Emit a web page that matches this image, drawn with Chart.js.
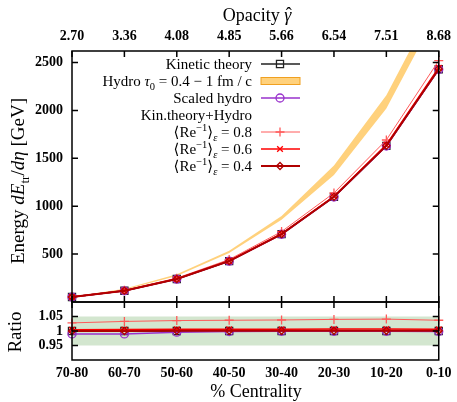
<!DOCTYPE html>
<html>
<head>
<meta charset="utf-8">
<script src="https://cdn.jsdelivr.net/npm/chart.js@4.4.1/dist/chart.umd.min.js"></script>
<style>
body { margin: 0; background: #fff; }
canvas { display: block; }
</style>
</head>
<body>
<canvas id="energyChart" width="457" height="402"></canvas>
<script>
// categories / tick labels
const centrality = ['70-80', '60-70', '50-60', '40-50', '30-40', '20-30', '10-20', '0-10'];
const opacity = ['2.70', '3.36', '4.08', '4.85', '5.66', '6.54', '7.51', '8.68'];
const energyTicks = [500, 1000, 1500, 2000, 2500];
const ratioTicks = [0.95, 1, 1.05];

// energy dE/deta [GeV]
const kinetic = [52, 118, 240, 427, 708, 1097, 1630, 2430];
const scaledHydro = [51.5, 117, 239, 427, 707, 1096, 1628, 2428];
const hydroLo = [52, 128, 272, 512, 858, 1325, 2020, 3050];
const hydroHi = [55, 138, 290, 535, 898, 1425, 2158, 3200];
const re08 = [53.6, 122, 249, 443, 735, 1138, 1691, 2520];
const re06 = [52.3, 118.6, 241.5, 429.5, 712, 1104, 1641, 2445];
const re04 = [52, 118, 240, 427.5, 709, 1098, 1632, 2432];

// ratio panel
const ratioKin = [1, 1, 1, 1, 1, 1, 1, 1];
const ratioScaled = [0.99, 0.99, 0.996, 0.998, 0.999, 0.999, 0.999, 0.998];
const ratio08 = [1.028, 1.033, 1.036, 1.037, 1.038, 1.040, 1.041, 1.037];
const ratio06 = [1.004, 1.005, 1.006, 1.006, 1.006, 1.007, 1.007, 1.006];
const ratio04 = [1.0, 1.0, 1.001, 1.001, 1.001, 1.001, 1.001, 1.001];
const ratioBandLo = [0.95, 0.95, 0.95, 0.95, 0.95, 0.95, 0.95, 0.95];
const ratioBandHi = [1.05, 1.05, 1.05, 1.05, 1.05, 1.05, 1.05, 1.05];

const SERIF = "'Liberation Serif', 'DejaVu Serif', serif";
const cKin = '#222222', cScaled = '#9932cc', c08 = '#ff5a5a', c06 = '#ff0000', c04 = '#b00000';
const cHydro = 'rgba(255, 204, 110, 0.9)', cHydroEdge = '#f0a020', cBand = '#d3e6cf';

// draws text made of pieces (italic, sub, sup, hat)
function drawRich(ctx, segs, x, y, align, size) {
    const parts = segs.map(s => {
        const sz = (s.sub || s.sup) ? size * 0.7 : size;
        const font = (s.it ? 'italic ' : '') + sz + 'px ' + SERIF;
        ctx.font = font;
        return { s: s, font: font, w: ctx.measureText(s.t).width };
    });
    const total = parts.reduce((a, p) => a + p.w, 0);
    let cx = align === 'right' ? x - total : align === 'center' ? x - total / 2 : x;
    ctx.textAlign = 'left';
    ctx.textBaseline = 'alphabetic';
    for (const p of parts) {
        ctx.font = p.font;
        const dy = p.s.sub ? size * 0.25 : p.s.sup ? -size * 0.4 : 0;
        ctx.fillText(p.s.t, cx, y + dy);
        if (p.s.hat) {
            ctx.font = size + 'px ' + SERIF;
            ctx.textAlign = 'center';
            ctx.fillText('\u02C6', cx + p.w / 2 + 1, y - 1);
            ctx.textAlign = 'left';
        }
        cx += p.w;
    }
}

function line(label, data, axis, color, style, radius, width, order) {
    return {
        label: label, data: data, yAxisID: axis,
        borderColor: color, backgroundColor: 'rgba(0,0,0,0)',
        borderWidth: width, pointStyle: style, pointRadius: radius,
        pointBorderColor: color, pointBorderWidth: 1.3, pointBackgroundColor: 'rgba(0,0,0,0)',
        tension: 0, fill: false, clip: false, order: order
    };
}

function band(data, axis, color, fill, order) {
    return {
        data: data, yAxisID: axis, borderWidth: 0, pointRadius: 0,
        borderColor: color, backgroundColor: color, fill: fill, order: order
    };
}

const legendRows = [
    { segs: [{ t: 'Kinetic theory' }], ds: 4 },
    { segs: [{ t: 'Hydro ' }, { t: '\u03C4', it: true }, { t: '0', sub: true }, { t: ' = 0.4 \u2212 1 fm / c' }], box: true },
    { segs: [{ t: 'Scaled hydro' }], ds: 5 },
    { segs: [{ t: 'Kin.theory+Hydro' }] },
    { segs: [{ t: '\u27E8Re' }, { t: '\u22121', sup: true }, { t: '\u27E9' }, { t: '\u03B5', sub: true, it: true }, { t: ' = 0.8' }], ds: 6 },
    { segs: [{ t: '\u27E8Re' }, { t: '\u22121', sup: true }, { t: '\u27E9' }, { t: '\u03B5', sub: true, it: true }, { t: ' = 0.6' }], ds: 7 },
    { segs: [{ t: '\u27E8Re' }, { t: '\u22121', sup: true }, { t: '\u27E9' }, { t: '\u03B5', sub: true, it: true }, { t: ' = 0.4' }], ds: 8 }
];

const framePlugin = {
    id: 'frame',
    afterDraw(chart) {
        const ctx = chart.ctx;
        const a = chart.chartArea;
        const x = chart.scales.x, y = chart.scales.y, yr = chart.scales.yr;
        ctx.save();
        ctx.strokeStyle = '#000';
        ctx.lineWidth = 1.5;
        ctx.strokeRect(a.left, y.top, a.right - a.left, y.bottom - y.top);
        ctx.strokeRect(a.left, yr.top, a.right - a.left, yr.bottom - yr.top);
        ctx.beginPath();
        centrality.forEach((c, i) => {
            const px = x.getPixelForValue(i);
            ctx.moveTo(px, y.top); ctx.lineTo(px, y.top + 6);
            ctx.moveTo(px, y.bottom - 6); ctx.lineTo(px, y.bottom + 6);
        });
        energyTicks.forEach(v => {
            const py = y.getPixelForValue(v);
            ctx.moveTo(a.left, py); ctx.lineTo(a.left + 6, py);
            ctx.moveTo(a.right, py); ctx.lineTo(a.right - 6, py);
        });
        ratioTicks.forEach(v => {
            const py = yr.getPixelForValue(v);
            ctx.moveTo(a.left, py); ctx.lineTo(a.left + 6, py);
            ctx.moveTo(a.right, py); ctx.lineTo(a.right - 6, py);
        });
        ctx.stroke();

        // legend
        ctx.fillStyle = '#000';
        legendRows.forEach((row, i) => {
            const cy = 64 + i * 17;
            drawRich(ctx, row.segs, 252, cy + 5, 'right', 15);
            if (row.box) {
                ctx.fillStyle = cHydro;
                ctx.fillRect(261, cy - 3.5, 39, 7);
                ctx.strokeStyle = cHydroEdge;
                ctx.lineWidth = 1;
                ctx.strokeRect(261, cy - 3.5, 39, 7);
            } else if (row.ds !== undefined) {
                const ds = chart.data.datasets[row.ds];
                ctx.strokeStyle = ds.borderColor;
                ctx.lineWidth = ds.borderWidth;
                ctx.beginPath();
                ctx.moveTo(261, cy); ctx.lineTo(300, cy);
                ctx.stroke();
                ctx.lineWidth = ds.pointBorderWidth;
                ctx.fillStyle = 'rgba(0,0,0,0)';
                Chart.helpers.drawPoint(ctx, { pointStyle: ds.pointStyle, radius: ds.pointRadius, rotation: 0, borderWidth: ds.pointBorderWidth }, 280, cy);
            }
            ctx.fillStyle = '#000';
        });

        // axis titles
        ctx.fillStyle = '#000';
        drawRich(ctx, [{ t: 'Opacity ' }, { t: '\u03B3', it: true, hat: true }], 257, 21, 'center', 18);
        drawRich(ctx, [{ t: '% Centrality' }], 256, 397, 'center', 18);
        ctx.save();
        ctx.translate(18, 181);
        ctx.rotate(-Math.PI / 2);
        drawRich(ctx, [{ t: 'Energy ' }, { t: 'dE', it: true }, { t: 'tr', sub: true }, { t: '/' }, { t: 'd\u03B7', it: true }, { t: ' [GeV]' }], 0, 6, 'center', 19);
        ctx.restore();
        ctx.save();
        ctx.translate(15, 332);
        ctx.rotate(-Math.PI / 2);
        drawRich(ctx, [{ t: 'Ratio' }], 0, 6, 'center', 19);
        ctx.restore();
        ctx.restore();
    }
};

const tickFont = { family: SERIF, size: 14, weight: 'bold' };
const noGrid = { display: false, drawTicks: false, tickLength: 0 };

new Chart(document.getElementById('energyChart').getContext('2d'), {
    type: 'line',
    data: {
        labels: centrality,
        datasets: [
            band(hydroLo, 'y', cHydro, false, 20),
            band(hydroHi, 'y', cHydro, '-1', 19),
            band(ratioBandLo, 'yr', cBand, false, 20),
            band(ratioBandHi, 'yr', cBand, '-1', 19),
            line('Kinetic theory', kinetic, 'y', cKin, 'rect', 5, 1.5, 5),
            line('Scaled hydro', scaledHydro, 'y', cScaled, 'circle', 4, 1.5, 4),
            line('Re 0.8', re08, 'y', c08, 'cross', 4.5, 1, 3),
            line('Re 0.6', re06, 'y', c06, 'crossRot', 4, 1.5, 2),
            line('Re 0.4', re04, 'y', c04, 'rectRot', 3.5, 2, 1),
            line('', ratioKin, 'yr', cKin, 'rect', 5, 1.5, 5),
            line('', ratioScaled, 'yr', cScaled, 'circle', 4, 1.5, 4),
            line('', ratio08, 'yr', c08, 'cross', 4.5, 1, 3),
            line('', ratio06, 'yr', c06, 'crossRot', 4, 1.5, 2),
            line('', ratio04, 'yr', c04, 'rectRot', 3.5, 2, 1)
        ]
    },
    options: {
        responsive: false,
        animation: false,
        devicePixelRatio: 1,
        layout: { padding: { left: 0, right: 15, top: 0, bottom: 0 } },
        plugins: { legend: { display: false }, tooltip: { enabled: false } },
        scales: {
            x: {
                type: 'category', position: 'bottom', offset: false,
                grid: noGrid, border: { display: false },
                ticks: { font: tickFont, color: '#000', padding: 5, autoSkip: false, maxRotation: 0 },
                afterFit: s => { s.height = 42; }
            },
            x2: {
                type: 'category', position: 'top', labels: opacity, offset: false,
                grid: noGrid, border: { display: false },
                ticks: { font: tickFont, color: '#000', padding: 6, autoSkip: false, maxRotation: 0 },
                afterFit: s => { s.height = 51; }
            },
            y: {
                type: 'linear', position: 'left', stack: 'panels', stackWeight: 251, weight: 2,
                min: 0, max: 2620,
                grid: noGrid, border: { display: false },
                ticks: { font: tickFont, color: '#000', padding: 9, autoSkip: false, callback: v => String(v) },
                afterBuildTicks: s => { s.ticks = energyTicks.map(v => ({ value: v })); },
                afterFit: s => { s.width = 72; }
            },
            yr: {
                type: 'linear', position: 'left', stack: 'panels', stackWeight: 58, weight: 1,
                min: 0.9, max: 1.1,
                grid: noGrid, border: { display: false },
                ticks: { font: tickFont, color: '#000', padding: 9, autoSkip: false, callback: v => String(v) },
                afterBuildTicks: s => { s.ticks = ratioTicks.map(v => ({ value: v })); },
                afterFit: s => { s.width = 72; }
            }
        }
    },
    plugins: [framePlugin]
});
</script>
</body>
</html>
